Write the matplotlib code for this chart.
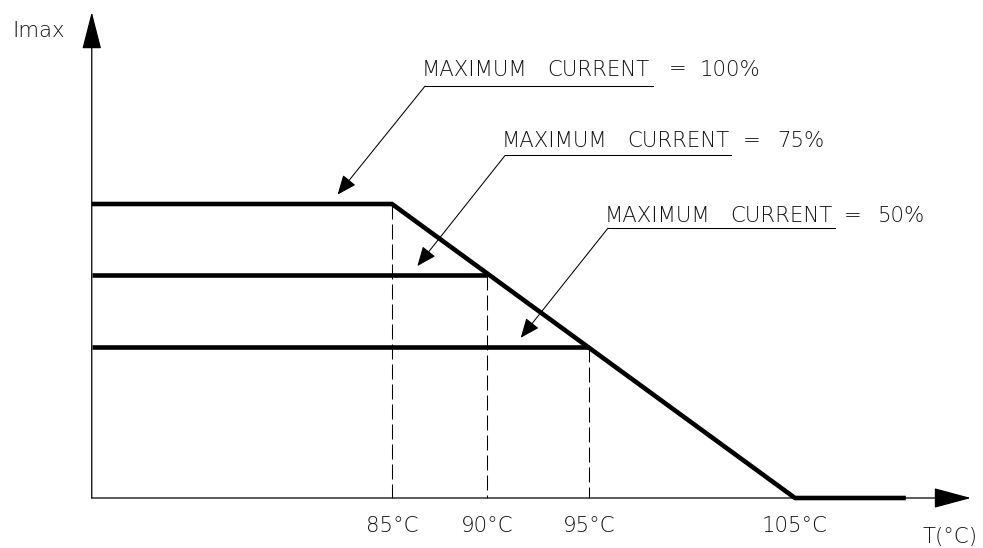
import matplotlib
matplotlib.use("Agg")
import matplotlib.pyplot as plt

# ---- data ----
T_origin = 70.1                      # temperature at the y axis
knee_T = [85.0, 89.7, 94.8]          # where each limit meets the derating slope
levels = [100.0, 76.0, 51.3]         # maximum current levels (%)
zero_T = 105.0                       # current reaches zero
end_T = 110.5                        # end of the flat zero segment
tick_T = [85.0, 89.7, 94.8, 105.0]
tick_labels = ["85°C", "90°C", "95°C", "105°C"]
pct_labels = ["100%", "75%", "50%"]

# ---- figure ----
fig = plt.figure(figsize=(9.83, 5.48), dpi=100)
ax = fig.add_axes([0, 0, 1, 1])
ax.set_xlim(65.546, 114.330)
ax.set_ylim(-17.007, 169.39)
ax.axis("off")

ink = "black"
txt = "#111111"
fkw = dict(fontsize=15.3, color=txt, family="DejaVu Sans", fontweight="light")

# axes with arrows
ax.annotate("", xy=(T_origin, 165.3), xytext=(T_origin, 0),
            arrowprops=dict(arrowstyle="-|>,head_length=2.38,head_width=0.61",
                            mutation_scale=10, lw=0.9, color=ink,
                            shrinkA=0, shrinkB=0))
ax.annotate("", xy=(113.73, 0), xytext=(T_origin, 0),
            arrowprops=dict(arrowstyle="-|>,head_length=2.38,head_width=0.64",
                            mutation_scale=10, lw=0.9, color=ink,
                            shrinkA=0, shrinkB=0))

# derating curves
ax.plot([T_origin, knee_T[0], zero_T, end_T], [levels[0], levels[0], 0, 0],
        color=ink, lw=3.3, solid_joinstyle="miter", solid_capstyle="butt")
for t, lv in zip(knee_T[1:], levels[1:]):
    ax.plot([T_origin, t], [lv, lv], color=ink, lw=3.3, solid_capstyle="butt")

# dashed drop lines
for t, lv in zip(knee_T, levels):
    ax.plot([t, t], [lv, 0], color=ink, lw=0.75, linestyle=(0, (14.4, 4.8)))

# tick labels
for t, lab in zip(tick_T, tick_labels):
    ax.text(t, -11.6, lab, ha="center", va="baseline", **fkw)

ax.text(111.35, -15.3, "T(°C)", ha="left", va="baseline", **fkw)
ax.text(66.14, 156.8, "Imax", ha="left", va="baseline", **fkw)

# callouts
word1_T = [86.49, 90.46, 95.57]
word2_T = [92.69, 96.66, 101.77]
eq_T = [99.19, 102.87, 107.88]
pct_T = [100.29, 104.11, 109.12]
base_L = [143.7, 119.4, 93.9]
ul_start_T = [86.64, 90.61, 95.72]
ul_end_T = [97.95, 101.82, 106.99]
ul_L = [140.1, 116.5, 91.8]
tip_T = [82.30, 86.26, 91.39]
tip_L = [103.2, 78.9, 54.5]

for i in range(3):
    ax.text(word1_T[i], base_L[i], "MAXIMUM", ha="left", va="baseline", **fkw)
    ax.text(word2_T[i], base_L[i], "CURRENT", ha="left", va="baseline", **fkw)
    ax.text(eq_T[i], base_L[i], "=", ha="center", va="baseline", **fkw)
    ax.text(pct_T[i], base_L[i], pct_labels[i], ha="left", va="baseline", **fkw)
    ax.plot([ul_start_T[i], ul_end_T[i]], [ul_L[i], ul_L[i]], color=ink, lw=0.75)
    ax.annotate("", xy=(tip_T[i], tip_L[i]), xytext=(ul_start_T[i], ul_L[i]),
                arrowprops=dict(arrowstyle="-|>,head_length=1.2,head_width=0.5",
                                mutation_scale=10, lw=0.75, color=ink,
                                shrinkA=0, shrinkB=0))

fig.savefig("out.png", dpi=100)
